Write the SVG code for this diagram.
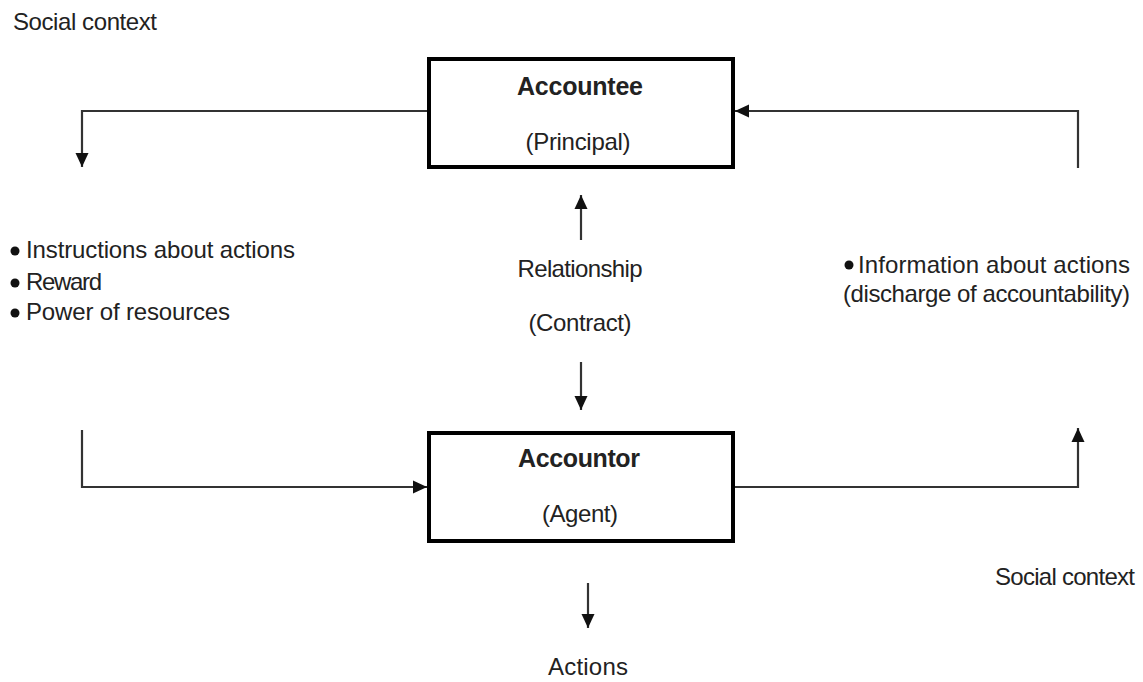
<svg xmlns="http://www.w3.org/2000/svg" width="1143" height="682" viewBox="0 0 1143 682">
<style>
.t{font-family:"Liberation Sans",Arial,sans-serif;font-size:24px;fill:#222}
.b{font-family:"Liberation Sans",Arial,sans-serif;font-size:25px;font-weight:bold;fill:#222}
.box{fill:#fff;stroke:#000;stroke-width:4}
.c{fill:none;stroke:#333;stroke-width:2.2}
.dot{fill:#111}
</style>
<defs>
<marker id="ah" markerUnits="userSpaceOnUse" markerWidth="16" markerHeight="16" refX="14" refY="7.5" orient="auto">
<path d="M0,1 L14,7.5 L0,14 z" fill="#111"/>
</marker>
</defs>
<rect width="1143" height="682" fill="#fff"/>
<g id="connectors">
<path class="c" d="M428,111 H82 V167" marker-end="url(#ah)"/>
<path class="c" d="M1078,168 V111 H735" marker-end="url(#ah)"/>
<path class="c" d="M82,430 V487 H427" marker-end="url(#ah)"/>
<path class="c" d="M733,487 H1078 V428" marker-end="url(#ah)"/>
<path class="c" d="M581,240 V195" marker-end="url(#ah)"/>
<path class="c" d="M581,362 V410" marker-end="url(#ah)"/>
<path class="c" d="M588,583 V628" marker-end="url(#ah)"/>
</g>
<g id="accountee">
<rect class="box" x="429" y="59" width="304" height="108"/>
<text class="b" x="580" y="95" text-anchor="middle" textLength="126">Accountee</text>
<text class="t" x="578" y="150" text-anchor="middle" textLength="105">(Principal)</text>
</g>
<g id="accountor">
<rect class="box" x="429" y="433" width="304" height="108"/>
<text class="b" x="579" y="467" text-anchor="middle" textLength="122">Accountor</text>
<text class="t" x="580" y="522" text-anchor="middle" textLength="76">(Agent)</text>
</g>
<g id="relationship">
<text class="t" x="580" y="277" text-anchor="middle" textLength="125">Relationship</text>
<text class="t" x="580" y="331" text-anchor="middle" textLength="103">(Contract)</text>
</g>
<g id="instructions">
<circle class="dot" cx="15" cy="251" r="4.5"/>
<text class="t" x="26" y="258" textLength="269">Instructions about actions</text>
<circle class="dot" cx="15" cy="283" r="4.5"/>
<text class="t" x="26" y="290" textLength="76">Reward</text>
<circle class="dot" cx="15" cy="313" r="4.5"/>
<text class="t" x="26" y="320" textLength="204">Power of resources</text>
</g>
<g id="information">
<circle class="dot" cx="849" cy="265" r="4.5"/>
<text class="t" x="858" y="273" textLength="272">Information about actions</text>
<text class="t" x="843" y="302" textLength="287">(discharge of accountability)</text>
</g>
<g id="social-context-top">
<text class="t" x="13" y="30" textLength="144">Social context</text>
</g>
<g id="social-context-bottom">
<text class="t" x="995" y="585" textLength="140">Social context</text>
</g>
<g id="actions">
<text class="t" x="588" y="675" text-anchor="middle" textLength="80">Actions</text>
</g>
</svg>
